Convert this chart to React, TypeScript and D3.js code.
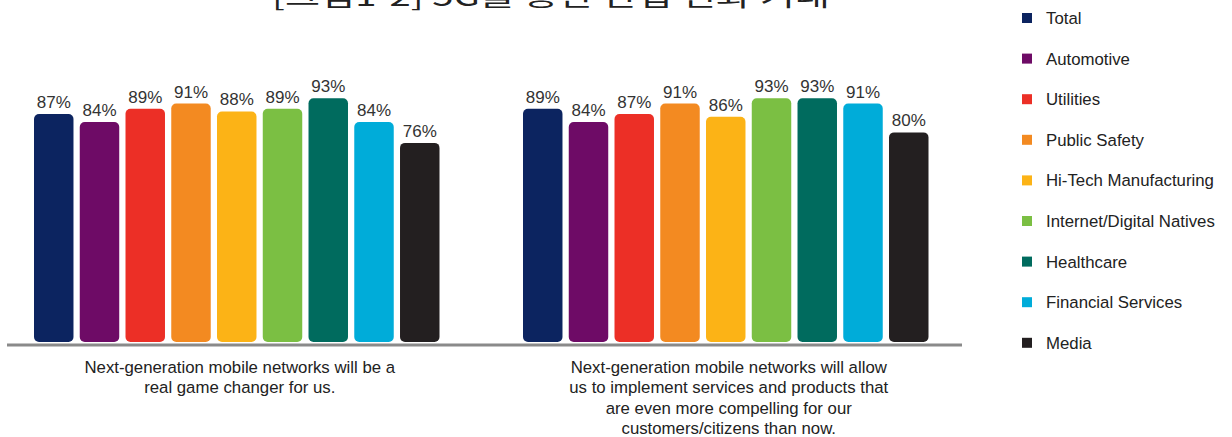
import React from "react";
import * as d3 from "d3";

const categories = [
  "Total",
  "Automotive",
  "Utilities",
  "Public Safety",
  "Hi-Tech Manufacturing",
  "Internet/Digital Natives",
  "Healthcare",
  "Financial Services",
  "Media",
];
const colors = [
  "#0c2460",
  "#6e0b66",
  "#ec2f26",
  "#f38a21",
  "#fcb316",
  "#7bbf43",
  "#006b5e",
  "#00acd9",
  "#231f20",
];
const gameChanger = [87, 84, 89, 91, 88, 89, 93, 84, 76];
const compelling = [89, 84, 87, 91, 86, 93, 93, 91, 80];
const captionLeft = ["Next-generation mobile networks will be a", "real game changer for us."];
const captionRight = [
  "Next-generation mobile networks will allow",
  "us to implement services and products that",
  "are even more compelling for our",
  "customers/citizens than now.",
];
const title = "[그림1-2] 5G를 통한 산업 변화 기대";

const W = 1232;
const H = 437;
const FONT = "'Liberation Sans', Arial, Helvetica, sans-serif";

const y = d3.scaleLinear().domain([0, 100]).range([342, 80]);

function Panel({ values, x0, x1, caption }: { values: number[]; x0: number; x1: number; caption: string[] }) {
  const x = d3.scaleBand<string>().domain(categories).range([x0, x1]).paddingInner(0.137).paddingOuter(0);
  const cx = (x0 + x1) / 2 + 3;
  return (
    <g>
      {values.map((v, i) => {
        const c = categories[i];
        const bx = x(c)!;
        const bw = x.bandwidth();
        return (
          <g key={c}>
            <rect x={bx} y={y(v)} width={bw} height={y(0) - y(v)} rx={5} ry={5} fill={colors[i]} />
            <text
              x={bx + bw / 2}
              y={y(v) - 6}
              textAnchor="middle"
              fontFamily={FONT}
              fontSize={17}
              fill="#333"
            >
              {v}%
            </text>
          </g>
        );
      })}
      {caption.map((line, i) => (
        <text key={i} x={cx} y={372.5 + i * 20.5} textAnchor="middle" fontFamily={FONT} fontSize={16.8} fill="#222">
          {line}
        </text>
      ))}
    </g>
  );
}

export default function App() {
  return (
    <svg
      width={W}
      height={H}
      viewBox={`0 0 ${W} ${H}`}
      style={{ position: "absolute", left: 0, top: 0, background: "#fff" }}
    >
      <rect x={0} y={0} width={W} height={H} fill="#fff" />
      <text
        x={272}
        y={6}
        textLength={558}
        lengthAdjust="spacingAndGlyphs"
        fontFamily="'Noto Sans CJK KR', sans-serif"
        fontSize={26}
        fill="#222"
      >
        {title}
      </text>
      <line x1={7} x2={962} y1={345} y2={345} stroke="#8a8a8a" strokeWidth={3} />
      <Panel values={gameChanger} x0={34} x1={439.5} caption={captionLeft} />
      <Panel values={compelling} x0={523} x1={928.5} caption={captionRight} />
      <g>
        {categories.map((c, i) => {
          const cy = 18 + i * 40.6;
          return (
            <g key={c}>
              <rect x={1022} y={cy - 5} width={10} height={10} fill={colors[i]} />
              <text x={1046} y={cy + 6} fontFamily={FONT} fontSize={16.8} fill="#222">
                {c}
              </text>
            </g>
          );
        })}
      </g>
    </svg>
  );
}
